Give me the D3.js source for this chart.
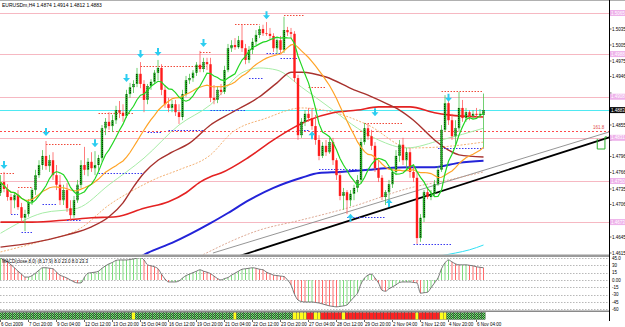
<!DOCTYPE html>
<html><head><meta charset="utf-8">
<script src="https://cdn.jsdelivr.net/npm/d3@7/dist/d3.min.js"></script>
<style>
html,body{margin:0;padding:0;background:#fff;overflow:hidden}
svg{display:block}
text{font-family:"Liberation Sans",Arial,sans-serif}
</style></head><body>
<svg id="chart" width="625" height="327"></svg>
<script>
// ---------------- DATA ----------------
const opens=[1.4728,1.4748,1.4735,1.4720,1.4714,1.4724,1.4701,1.4681,1.4688,1.4711,
1.4733,1.4761,1.4780,1.4797,1.4778,1.4789,1.4761,1.4743,1.4714,1.4733,
1.4699,1.4686,1.4714,1.4743,1.4780,1.4771,1.4786,1.4774,1.4780,1.4793,
1.4849,1.4861,1.4853,1.4864,1.4883,1.4878,1.4872,1.4913,1.4926,1.4932,
1.4951,1.4932,1.4902,1.4928,1.4936,1.4953,1.4962,1.4921,1.4894,1.4887,
1.4894,1.4879,1.4870,1.4913,1.4939,1.4943,1.4953,1.4968,1.4960,1.4973,
1.4969,1.4906,1.4902,1.4921,1.4917,1.4958,1.4999,1.5005,1.5001,1.5014,
1.4999,1.4977,1.4996,1.5011,1.5024,1.5035,1.5027,1.5026,1.5022,1.4999,
1.5014,1.4996,1.5033,1.5029,1.5026,1.4943,1.4836,1.4861,1.4876,1.4868,
1.4853,1.4827,1.4797,1.4816,1.4804,1.4823,1.4789,1.4761,1.4722,1.4729,
1.4714,1.4726,1.4737,1.4752,1.4823,1.4849,1.4834,1.4816,1.4774,1.4756,
1.4720,1.4729,1.4744,1.4767,1.4797,1.4818,1.4789,1.4804,1.4767,1.4756,
1.4643,1.4681,1.4729,1.4720,1.4726,1.4744,1.4771,1.4846,1.4896,1.4864,
1.4834,1.4849,1.4887,1.4868,1.4879,1.4872,1.4876,1.4874,1.4874];
const highs=[1.4761,1.4767,1.4744,1.4726,1.4729,1.4733,1.4709,1.4696,1.4716,1.4737,
1.4771,1.4789,1.4808,1.4825,1.4799,1.4804,1.4780,1.4761,1.4743,1.4746,
1.4714,1.4722,1.4752,1.4789,1.4814,1.4793,1.4804,1.4806,1.4799,1.4855,
1.4868,1.4879,1.4874,1.4891,1.4900,1.4894,1.4921,1.4934,1.4939,1.4962,
1.4973,1.4939,1.4932,1.4941,1.4958,1.4977,1.4969,1.4930,1.4906,1.4902,
1.4902,1.4894,1.4921,1.4947,1.4951,1.4958,1.4973,1.4994,1.4981,1.4981,
1.4981,1.4930,1.4928,1.4932,1.4966,1.5007,1.5014,1.5018,1.5022,1.5044,
1.5007,1.5003,1.5018,1.5033,1.5041,1.5043,1.5048,1.5037,1.5027,1.5018,
1.5022,1.5058,1.5039,1.5037,1.5031,1.4949,1.4868,1.4883,1.4887,1.4887,
1.4874,1.4836,1.4823,1.4827,1.4831,1.4831,1.4793,1.4767,1.4737,1.4733,
1.4733,1.4743,1.4761,1.4831,1.4859,1.4857,1.4846,1.4823,1.4789,1.4761,
1.4733,1.4752,1.4774,1.4808,1.4827,1.4831,1.4812,1.4812,1.4780,1.4767,
1.4688,1.4733,1.4737,1.4733,1.4752,1.4778,1.4855,1.4911,1.4906,1.4876,
1.4864,1.4917,1.4902,1.4887,1.4883,1.4883,1.4887,1.4885,1.4914];
const lows=[1.4722,1.4729,1.4713,1.4688,1.4699,1.4696,1.4673,1.4656,1.4683,1.4705,
1.4724,1.4756,1.4771,1.4771,1.4767,1.4752,1.4733,1.4705,1.4705,1.4692,
1.4675,1.4681,1.4709,1.4737,1.4761,1.4759,1.4767,1.4761,1.4767,1.4786,
1.4836,1.4846,1.4842,1.4857,1.4868,1.4861,1.4868,1.4906,1.4915,1.4926,
1.4924,1.4879,1.4894,1.4921,1.4932,1.4939,1.4911,1.4887,1.4879,1.4879,
1.4872,1.4857,1.4864,1.4908,1.4932,1.4936,1.4947,1.4954,1.4954,1.4958,
1.4898,1.4894,1.4896,1.4911,1.4913,1.4954,1.4992,1.4996,1.4998,1.4992,
1.4969,1.4971,1.4988,1.5005,1.5018,1.5022,1.5022,1.5014,1.4992,1.4988,
1.4990,1.4990,1.5022,1.5018,1.4936,1.4827,1.4831,1.4853,1.4861,1.4846,
1.4818,1.4789,1.4793,1.4797,1.4801,1.4780,1.4752,1.4714,1.4696,1.4688,
1.4703,1.4714,1.4729,1.4746,1.4818,1.4827,1.4808,1.4767,1.4748,1.4714,
1.4705,1.4714,1.4737,1.4761,1.4786,1.4780,1.4771,1.4756,1.4748,1.4632,
1.4636,1.4673,1.4716,1.4714,1.4722,1.4741,1.4767,1.4842,1.4855,1.4827,
1.4816,1.4842,1.4861,1.4861,1.4864,1.4866,1.4868,1.4868,1.4812];
const closes=[1.4748,1.4735,1.4720,1.4714,1.4724,1.4701,1.4681,1.4688,1.4711,1.4733,
1.4761,1.4780,1.4797,1.4778,1.4789,1.4761,1.4743,1.4714,1.4733,1.4699,
1.4686,1.4714,1.4743,1.4780,1.4771,1.4786,1.4774,1.4780,1.4793,1.4849,
1.4861,1.4853,1.4864,1.4883,1.4878,1.4872,1.4913,1.4926,1.4932,1.4951,
1.4932,1.4902,1.4928,1.4936,1.4953,1.4962,1.4921,1.4894,1.4887,1.4894,
1.4879,1.4870,1.4913,1.4939,1.4943,1.4953,1.4968,1.4960,1.4973,1.4969,
1.4906,1.4902,1.4921,1.4917,1.4958,1.4999,1.5005,1.5001,1.5014,1.4999,
1.4977,1.4996,1.5011,1.5024,1.5035,1.5027,1.5026,1.5022,1.4999,1.5014,
1.4996,1.5033,1.5029,1.5026,1.4943,1.4836,1.4861,1.4876,1.4868,1.4853,
1.4827,1.4797,1.4816,1.4804,1.4823,1.4789,1.4761,1.4722,1.4729,1.4714,
1.4726,1.4737,1.4752,1.4823,1.4849,1.4834,1.4816,1.4774,1.4756,1.4720,
1.4729,1.4744,1.4767,1.4797,1.4818,1.4789,1.4804,1.4767,1.4756,1.4643,
1.4681,1.4729,1.4720,1.4726,1.4744,1.4771,1.4846,1.4896,1.4864,1.4834,
1.4849,1.4887,1.4868,1.4879,1.4872,1.4876,1.4874,1.4876,1.4883];

const macd=[45,41,37,31,25,18,12,6,6,9,
14,20,25,25,24,23,16,10,7,4,
0,-4,-6,-6,6,14,15,16,18,24,
29,33,36,40,41,41,41,42,43,45,
46,41,31,29,27,23,12,2,-4,-4,
-4,-2,4,9,12,15,18,21,18,16,
13,8,3,0,3,5,10,14,18,22,
23,24,25,24,22,21,16,13,10,9,
8,7,0,-10,-29,-41,-44,-45,-45,-45,
-46,-47,-49,-51,-53,-54,-55,-54,-53,-51,
-43,-35,-27,-8,4,10,12,4,-6,-21,
-23,-18,-14,-10,-5,-4,-4,-4,-5,-6,
-27,-26,-25,-16,-6,4,23,35,41,37,
33,31,31,31,30,29,27,26,25];

const dateLabels=["6 Oct 2009","7 Oct 20:00","9 Oct 04:00","12 Oct 12:00","13 Oct 20:00","15 Oct 04:00","16 Oct 12:00","19 Oct 20:00","21 Oct 04:00","22 Oct 12:00","23 Oct 20:00","27 Oct 04:00","28 Oct 12:00","29 Oct 20:00","2 Nov 04:00","3 Nov 12:00","4 Nov 20:00","6 Nov 04:00"];
const dateLabelBars=[0,8,16,24,32,40,48,56,64,72,80,88,96,104,112,120,128,136];

const priceTicks=[1.5065,1.5035,1.5005,1.4975,1.4946,1.4915,1.4885,1.4855,1.4826,1.4796,1.4766,1.4735,1.4706,1.4676,1.4645,1.4615];
const macdTicks=[45,30,15,0,-15,-30,-45,-60];
const macdTickLabels=["45.0","30","15","0.00","-15","-30","-45","-60"];

const pivotLevels=[1.5065,1.4988,1.4908,1.4831,1.4750,1.4673];
const fibLevel=1.4844, fibLabel="161.8";
const bidPrice=1.4883;

const brownBars=[0,9,19,26,31,35,38,41,45,49,54,60,66,74,79,83,86,93,101,105,110,114,118,124,128,131,138];
const brownVals=[1.4626,1.4634,1.4649,1.4664,1.4683,1.4709,1.4739,1.4765,1.4789,1.4804,1.4821,1.4855,1.4878,1.4908,1.4934,1.4954,1.4954,1.4945,1.4921,1.4911,1.4896,1.4883,1.4864,1.4827,1.4808,1.4799,1.4795];
const redBars=[0,9,19,26,33,41,48,53,57,60,63,71,78,84,88,95,102,108,117,124,128,138];
const redVals=[1.4673,1.4673,1.4677,1.4681,1.4683,1.4699,1.4711,1.4728,1.4748,1.4758,1.4765,1.4795,1.4827,1.4851,1.4864,1.4878,1.4883,1.4889,1.4889,1.4878,1.4874,1.4870];
const blueBars=[40,42,49,60,65,71,78,86,91,97,105,110,117,124,131,138];
const blueVals=[1.4608,1.4615,1.4634,1.4671,1.4690,1.4714,1.4737,1.4756,1.4765,1.4767,1.4771,1.4774,1.4776,1.4776,1.4784,1.4788];
const paleBars=[0,12,22,31,41,51,60,69,74,79,86,95,102,108,116,126,138];
const paleVals=[1.4652,1.4690,1.4699,1.4743,1.4793,1.4855,1.4893,1.4953,1.4962,1.4958,1.4926,1.4883,1.4849,1.4827,1.4812,1.4827,1.4849];
const orangeDashBars=[0,11,23,31,38,45,51,60,66,76,86,95,105,117,126,138];
const orangeDashVals=[1.4617,1.4636,1.4662,1.4705,1.4733,1.4756,1.4771,1.4799,1.4840,1.4868,1.4887,1.4879,1.4855,1.4812,1.4814,1.4823];
const salmonBars=[57,74,86,100,117,128,138];
const salmonVals=[1.4609,1.4658,1.4677,1.4701,1.4737,1.4752,1.4767];
const cyanBars=[125,130,134,138];
const cyanVals=[1.4609,1.4615,1.4621,1.4630];

const trendBlack={bars:[67.6,173.9],prices:[1.4608,1.4832]};
const trendGray={bars:[60.7,173.9],prices:[1.4615,1.4842]};

// [startBar, endBar, price]
const resistSegs=[[0,4,1.4765],[5,9,1.4739],[13,23,1.4819],[28,38,1.4878],[40,59,1.4966],[57,60,1.4992],[67,74,1.5044],[81,87,1.5061],[88,93,1.4926],[104,115,1.4859],[126,138,1.4919]];
const supportSegs=[[3,5,1.4688],[6,9,1.4654],[12,16,1.4707],[19,23,1.4677],[28,41,1.4765],[42,46,1.4842],[48,58,1.4846],[60,70,1.4883],[71,75,1.4943],[76,80,1.4990],[80,85,1.4981],[85,88,1.4846],[91,102,1.4773],[99,110,1.4683],[118,129,1.4632],[125,138,1.4812]];

const downArrowBars=[1,13,27,36,40,45,58,76,107,128];
const downArrowPrices=[1.4780,1.4842,1.4821,1.4943,1.4988,1.4992,1.5009,1.5061,1.4879,1.4906];
const upArrowBars=[89,100,111];
const upArrowPrices=[1.4836,1.4681,1.4709];

const stripStates=["g","y","g","y","g","y","r","y","r","y","r","y","r","y","g"];
const stripCounts=[38,1,28,1,16,4,2,2,6,1,20,1,6,2,11];

const headerText="EURUSDm,H4  1.4874 1.4914 1.4812 1.4883";
const macdTitle="MACD(close,8,0) (8,17,9) 8.0 23.0 8.0 23.3";
const fastPeriod=8, slowPeriod=21;

// ---------------- DRAW ----------------
const svg=d3.select("#chart");
const N=closes.length;
const axisX=609.5;
const x=d3.scaleLinear().domain([0,N-1]).range([0.5,483.5]);
const y=d3.scaleLinear().domain([1.46094,1.50894]).range([256,0]);
const yM=d3.scaleLinear().domain([0,45]).range([280,258]);

const defs=svg.append("defs");
defs.append("clipPath").attr("id","cm").append("rect").attr("x",0).attr("y",2).attr("width",axisX).attr("height",252.5);
defs.append("clipPath").attr("id","cmacd").append("rect").attr("x",0).attr("y",258).attr("width",axisX).attr("height",52);
const gp=defs.append("pattern").attr("id","gp").attr("width",2).attr("height",2).attr("patternUnits","userSpaceOnUse");
gp.append("rect").attr("width",2).attr("height",2).attr("fill","#1d6e1d");
gp.append("rect").attr("width",1).attr("height",1).attr("fill","#7fd27f");
gp.append("rect").attr("x",1).attr("y",1).attr("width",1).attr("height",1).attr("fill","#7fd27f");
const bp=defs.append("pattern").attr("id","bp").attr("width",2).attr("height",2).attr("patternUnits","userSpaceOnUse");
bp.append("rect").attr("width",2).attr("height",2).attr("fill","#22a822");
bp.append("rect").attr("width",1).attr("height",1).attr("fill","#0a3a0a");

svg.append("rect").attr("width",625).attr("height",327).attr("fill","#fff");

const main=svg.append("g").attr("clip-path","url(#cm)");
const crisp=v=>Math.round(v)+0.5;

// pivot lines
main.selectAll(".piv").data(pivotLevels).join("line")
 .attr("x1",0).attr("x2",axisX).attr("y1",d=>crisp(y(d))).attr("y2",d=>crisp(y(d)))
 .attr("stroke","#f6b8c2").attr("stroke-width",1).attr("shape-rendering","crispEdges");
// bid line
main.append("line").attr("x1",0).attr("x2",axisX).attr("y1",crisp(y(bidPrice))).attr("y2",crisp(y(bidPrice)))
 .attr("stroke","#4fe9f2").attr("stroke-width",1).attr("shape-rendering","crispEdges");
// fib line
main.append("line").attr("x1",0).attr("x2",axisX).attr("y1",crisp(y(fibLevel))).attr("y2",crisp(y(fibLevel)))
 .attr("stroke","#ff4a4a").attr("stroke-width",1).attr("stroke-dasharray","2,2").attr("shape-rendering","crispEdges");
svg.append("text").attr("x",593).attr("y",y(fibLevel)-1.5).attr("font-size",4.5).attr("fill","#e04a4a").text(fibLabel);

// trendlines
function tl(t,color,w){
  main.append("line").attr("x1",x(t.bars[0])).attr("y1",y(t.prices[0])).attr("x2",x(t.bars[1])).attr("y2",y(t.prices[1]))
   .attr("stroke",color).attr("stroke-width",w);
}
tl(trendGray,"#8a8a8a",0.9);
tl(trendBlack,"#000",1.8);

// sampled indicator lines
function sLine(bars,vals,color,w,dash){
  const pts=bars.map((b,i)=>[x(b),y(vals[i])]);
  const p=main.append("path").attr("d",d3.line().curve(d3.curveMonotoneX)(pts))
   .attr("fill","none").attr("stroke",color).attr("stroke-width",w);
  if(dash) p.attr("stroke-dasharray",dash);
}
sLine(salmonBars,salmonVals,"#d9a08a",0.9,"2,1.5");
sLine(orangeDashBars,orangeDashVals,"#f2a865",0.9,"2,1.5");
sLine(paleBars,paleVals,"#a6eca6",1);
sLine(blueBars,blueVals,"#2323d8",2);
sLine(redBars,redVals,"#e42222",1.6);
sLine(brownBars,brownVals,"#a8322e",1.4);
sLine(cyanBars,cyanVals,"#30e0f4",1);

// dotted S/R segments
main.selectAll(".rs").data(resistSegs).join("line")
 .attr("x1",d=>x(d[0])).attr("x2",d=>x(d[1])).attr("y1",d=>crisp(y(d[2]))).attr("y2",d=>crisp(y(d[2])))
 .attr("stroke","#f04a3a").attr("stroke-width",1).attr("stroke-dasharray","1.5,1.5");
main.selectAll(".ss").data(supportSegs).join("line")
 .attr("x1",d=>x(d[0])).attr("x2",d=>x(d[1])).attr("y1",d=>crisp(y(d[2]))).attr("y2",d=>crisp(y(d[2])))
 .attr("stroke","#3a3af0").attr("stroke-width",1).attr("stroke-dasharray","1.5,1.5");

// candles
const idx=d3.range(N);
const up=i=>closes[i]>=opens[i];
main.selectAll(".wick").data(idx).join("line")
 .attr("x1",i=>x(i)).attr("x2",i=>x(i)).attr("y1",i=>y(highs[i])).attr("y2",i=>y(lows[i]))
 .attr("stroke",i=>up(i)?"#4cc44c":"#ff5a5a").attr("stroke-width",0.8);
main.selectAll(".body").data(idx).join("rect")
 .attr("x",i=>x(i)-1.2).attr("width",2.4)
 .attr("y",i=>y(Math.max(opens[i],closes[i])))
 .attr("height",i=>Math.max(0.8,Math.abs(y(opens[i])-y(closes[i]))))
 .attr("fill",i=>up(i)?"url(#bp)":"#ff1c1c");

// moving averages from closes
function sma(arr,n){return arr.map((v,i)=>d3.mean(arr.slice(Math.max(0,i-n+1),i+1)));}
const maFast=sma(closes,fastPeriod), maSlow=sma(closes,slowPeriod);
const lineGen=d3.line().x((d,i)=>x(i)).y(d=>y(d));
main.append("path").attr("d",lineGen(maSlow)).attr("fill","none").attr("stroke","#ffa326").attr("stroke-width",1.2);
main.append("path").attr("d",lineGen(maFast)).attr("fill","none").attr("stroke","#22d622").attr("stroke-width",1.2);

// arrows
function arrow(cx,cy,dir){ // dir 1 = down
  const s=dir;
  const p=`M${cx-1},${cy-4*s} L${cx+1},${cy-4*s} L${cx+1},${cy} L${cx+3.5},${cy} L${cx},${cy+4*s} L${cx-3.5},${cy} L${cx-1},${cy} Z`;
  main.append("path").attr("d",p).attr("fill","#2ccdf0");
}
downArrowBars.forEach((b,i)=>arrow(x(b),y(downArrowPrices[i]),1));
upArrowBars.forEach((b,i)=>arrow(x(b),y(upArrowPrices[i]),-1));

// green hollow marker near axis
const mk=[x(170.5),y(1.4829),x(172.7),y(1.4810)];
main.append("path").attr("d",`M${mk[0]},${mk[1]} L${mk[0]},${mk[3]} L${mk[2]},${mk[3]} L${mk[2]},${mk[1]-2} L${mk[2]+2},${mk[1]-2}`)
 .attr("fill","none").attr("stroke","#2bb02b").attr("stroke-width",1);

// header
svg.append("text").attr("x",2).attr("y",7).attr("font-size",5).attr("fill","#000").text(headerText);

// separators
svg.append("rect").attr("x",0).attr("y",254.5).attr("width",axisX).attr("height",2.5).attr("fill","#9a9a9a");
svg.append("rect").attr("x",0).attr("y",310.5).attr("width",axisX).attr("height",1.5).attr("fill","#8a8a8a");
svg.append("line").attr("x1",0).attr("x2",625).attr("y1",0.5).attr("y2",0.5).attr("stroke","#b0b0b0");

// MACD panel
const mp=svg.append("g").attr("clip-path","url(#cmacd)");
mp.selectAll(".mg").data(macdTicks).join("line")
 .attr("x1",0).attr("x2",axisX).attr("y1",d=>crisp(yM(d))).attr("y2",d=>crisp(yM(d)))
 .attr("stroke","#9a9a9a").attr("stroke-width",0.7).attr("stroke-dasharray","1.5,1.5");
mp.selectAll(".hb").data(idx).join("line")
 .attr("x1",i=>x(i)).attr("x2",i=>x(i)).attr("y1",yM(0)).attr("y2",i=>yM(macd[i]))
 .attr("stroke",i=>(i===0||macd[i]>=macd[i-1])?"#7edc7e":"#ff6b6b").attr("stroke-width",1);
mp.append("path").attr("d",d3.line().x((d,i)=>x(i)).y(d=>yM(d)).curve(d3.curveMonotoneX)(macd))
 .attr("fill","none").attr("stroke","#6a6a6a").attr("stroke-width",0.9);
svg.append("text").attr("x",2).attr("y",263).attr("font-size",4.5).attr("fill","#000").text(macdTitle);

// strip
const stripData=[];
let k=0;
stripStates.forEach((s,j)=>{for(let c=0;c<stripCounts[j];c++){stripData.push({i:k,s});k++;}});
svg.selectAll(".st").data(stripData).join("rect")
 .attr("x",d=>x(d.i)-1.75).attr("width",3.5).attr("y",312.5).attr("height",7)
 .attr("fill",d=>d.s==="g"?"url(#gp)":d.s==="y"?"#ffff1a":"#ff2121")
 .attr("stroke","#333").attr("stroke-width",0.3);

// date labels
svg.selectAll(".dt").data(dateLabels).join("text")
 .attr("x",(d,i)=>x(dateLabelBars[i])+0.5).attr("y",326).attr("font-size",4.5).attr("fill","#000").text(d=>d);
svg.selectAll(".dtk").data(dateLabelBars).join("line")
 .attr("x1",b=>x(b)).attr("x2",b=>x(b)).attr("y1",320).attr("y2",322).attr("stroke","#000").attr("stroke-width",0.6);

// right axis
svg.append("line").attr("x1",axisX).attr("x2",axisX).attr("y1",0).attr("y2",321).attr("stroke","#000").attr("stroke-width",1);
const boxLevels=pivotLevels.concat([bidPrice]);
const freeTicks=priceTicks.filter(t=>boxLevels.every(b=>Math.abs(y(b)-y(t))>5.5));
svg.selectAll(".pt").data(freeTicks).join("text")
 .attr("x",612).attr("y",d=>y(d)+1.6).attr("font-size",4.5).attr("fill","#000").text(d=>d.toFixed(4));
svg.selectAll(".ptk").data(priceTicks).join("line")
 .attr("x1",axisX).attr("x2",axisX+2).attr("y1",d=>y(d)).attr("y2",d=>y(d)).attr("stroke","#000").attr("stroke-width",0.6);
// pivot boxes
const pb=svg.selectAll(".pb").data(pivotLevels).join("g");
pb.append("rect").attr("x",610).attr("y",d=>y(d)-3).attr("width",15).attr("height",6).attr("fill","#eeb2ea");
pb.append("text").attr("x",611).attr("y",d=>y(d)+1.6).attr("font-size",4.5).attr("fill","#fff").text(d=>d.toFixed(4));
// bid box
svg.append("rect").attr("x",610).attr("y",y(bidPrice)-3).attr("width",15).attr("height",6).attr("fill","#0a0a0a");
svg.append("text").attr("x",611).attr("y",y(bidPrice)+1.6).attr("font-size",4.5).attr("fill","#fff").text(bidPrice.toFixed(4));
// macd axis labels
svg.selectAll(".ml").data(macdTicks).join("text")
 .attr("x",612).attr("y",d=>yM(d)+1.6).attr("font-size",4.5).attr("fill","#000").text((d,i)=>macdTickLabels[i]);
</script></body></html>
